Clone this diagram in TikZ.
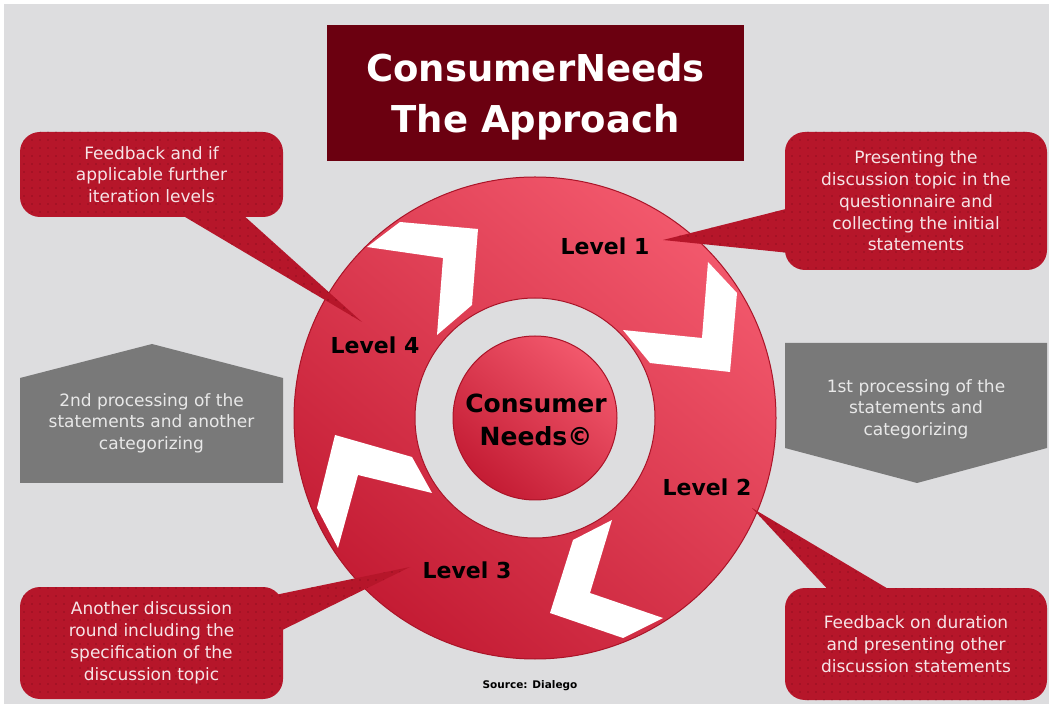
\documentclass[tikz,border=0pt]{standalone}
\usepackage{fontspec}
\setmainfont{DejaVu Sans}
\usetikzlibrary{calc,patterns.meta}

\definecolor{bggrey}{RGB}{221,221,223}
\definecolor{calloutred}{RGB}{182,22,42}
\definecolor{dotred}{RGB}{110,8,22}
\definecolor{callouttext}{RGB}{246,228,231}
\definecolor{titlered}{RGB}{107,0,16}
\definecolor{boxgrey}{RGB}{121,121,121}
\definecolor{boxtext}{RGB}{232,232,232}
\definecolor{ringlight}{RGB}{242,88,108}
\definecolor{ringdark}{RGB}{196,28,52}
\definecolor{ringedge}{RGB}{170,20,40}

% sparse dark dots laid over the red speech bubbles
\tikzdeclarepattern{
  name=sparsedots,
  type=uncolored,
  bounding box={(-1pt,-1pt) and (1pt,1pt)},
  tile size={(8pt,8pt)},
  code={\fill (0pt,0pt) circle (0.7pt);}
}

\begin{document}
\begin{tikzpicture}[x=1pt,y=-1pt,
  bubble/.style={fill=calloutred, rounded corners=20pt, text=callouttext,
    align=center, inner sep=0pt, minimum width=263pt,
    font=\fontsize{17}{21.8}\selectfont,
    postaction={pattern=sparsedots, pattern color=dotred}},
  tail/.style={fill=calloutred,
    postaction={pattern=sparsedots, pattern color=dotred}},
  greytext/.style={text=boxtext, align=center,
    font=\fontsize{17}{21.5}\selectfont},
  greybox/.style={fill=boxgrey},
  level/.style={font=\fontsize{22}{26}\bfseries\selectfont, text=black},
  ringshade/.style={top color=ringlight, bottom color=ringdark, shading angle=-40},
  ringline/.style={draw=ringedge, line width=1pt},
  chevron/.style={fill=white}
]
\useasboundingbox (0,0) rectangle (1053,708);
\fill[white] (0,0) rectangle (1053,708);
\fill[bggrey] (4,4) rectangle (1049,704);

% title block
\node[fill=titlered, minimum width=417pt, minimum height=136pt, inner sep=0pt]
      (title) at (535.5,93) {};
\node[text=white, align=center, font=\fontsize{37}{51}\bfseries\selectfont]
      (titletext) at (535.5,97) {ConsumerNeeds\\The Approach};

% processing arrows (grey pentagons)
\fill[greybox] (20,378) -- (152,344) -- (283,378) -- (283,483) -- (20,483) -- cycle;
\node[greytext] (proc2) at (151.5,423) {2nd processing of the\\statements and another\\categorizing};
\fill[greybox] (785,343) -- (1047,343) -- (1047,448) -- (917,483) -- (785,448) -- cycle;
\node[greytext] (proc1) at (916,409) {1st processing of the\\statements and\\categorizing};

% the ring
\coordinate (ctr) at (535,418);
\shade[ringshade] (ctr) circle[radius=241pt];
\draw[ringline] (ctr) circle[radius=241pt];

% white chevrons turning around the ring
\fill[chevron] (400,222) -- (478,229) -- (472,305) -- (437,335) -- (443,258) -- (367,247) -- cycle;
\fill[chevron] (708,262) -- (737,293) -- (730,372) -- (650,363) -- (623,330) -- (702,338) -- cycle;
\fill[chevron] (573,540) -- (612,520) -- (590,593) -- (663,618) -- (623,638) -- (550,613) -- cycle;
\fill[chevron] (335,435) -- (412,457) -- (432,493) -- (358,475) -- (338,548) -- (317,508) -- cycle;

% inner gap and centre disc
\fill[bggrey] (ctr) circle[radius=120pt];
\draw[ringline] (ctr) circle[radius=120pt];
\shade[ringshade] (ctr) circle[radius=82pt];
\draw[ringline] (ctr) circle[radius=82pt];
\node[font=\fontsize{25}{33}\bfseries\selectfont, align=center] (core) at (536,420) {Consumer\\Needs©};

% speech bubbles
\node[bubble, minimum height=85pt] (fbk) at (151.5,174.5) {Feedback and if\\applicable further\\iteration levels};
\node[bubble, minimum width=262pt, minimum height=138pt] (pres) at (916,201) {Presenting the\\discussion topic in the\\questionnaire and\\collecting the initial\\statements};
\node[bubble, minimum height=112pt] (anoth) at (151.5,643) {Another discussion\\round including the\\specification of the\\discussion topic};
\node[bubble, minimum width=262pt, minimum height=112pt] (fdur) at (916,644) {Feedback on duration\\and presenting other\\discussion statements};

% tips of the bubble tails
\coordinate (tip1) at (663,240);
\coordinate (tip2) at (752,508);
\coordinate (tip3) at (410,567);
\coordinate (tip4) at (362,322);

\fill[tail] ($(pres.west)+(5,7)$) -- (tip1) -- ($(pres.west)+(5,52)$) -- cycle;
\fill[tail] ($(fdur.north)+(-86,4)$) -- (tip2) -- ($(fdur.north)+(-23,4)$) -- cycle;
\fill[tail] ($(anoth.east)+(-13,-47)$) -- (tip3) -- ($(anoth.east)+(-13,-7)$) -- cycle;
\fill[tail] ($(fbk.south)+(25.5,-5)$) -- (tip4) -- ($(fbk.south)+(88.5,-5)$) -- cycle;

% level labels
\node[level] (lv1) at (605,246) {Level 1};
\node[level] (lv2) at (707,487) {Level 2};
\node[level] (lv3) at (467,570) {Level 3};
\node[level] (lv4) at (375,345) {Level 4};

\node[font=\fontsize{10.5}{12}\bfseries\selectfont] (src) at (530,686) {Source: Dialego};
\end{tikzpicture}
\end{document}
